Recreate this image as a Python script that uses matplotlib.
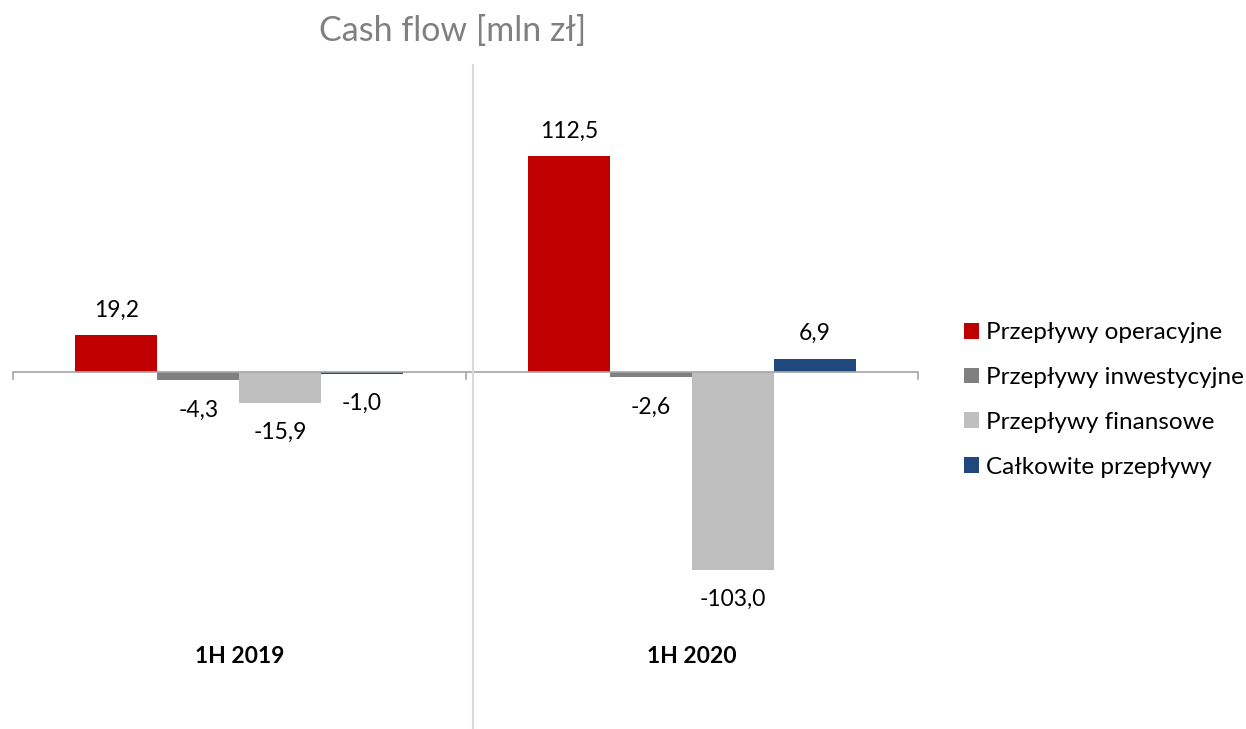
import matplotlib
matplotlib.use('Agg')
import matplotlib.pyplot as plt
import numpy as np
from matplotlib.lines import Line2D
from matplotlib.patches import Patch

# data
periods = ['1H 2019', '1H 2020']
series = ['Przepływy operacyjne', 'Przepływy inwestycyjne',
          'Przepływy finansowe', 'Całkowite przepływy']
operacyjne = [19.2, 112.5]
inwestycyjne = [-4.3, -2.6]
finansowe = [-15.9, -103.0]
calkowite = [-1.0, 6.9]
colors = ['#C00000', '#808080', '#BFBFBF', '#1F497D']

plt.rcParams['font.family'] = ['Lato', 'DejaVu Sans']

W, H = 1246, 729
fig = plt.figure(figsize=(W / 100, H / 100), dpi=100)

# axes placed in pixel coords: x from 13 to 918, zero line at y=372
ymax, ymin = 150, -150
ppu = 1.92
top_px = 372 - ppu * ymax
bot_px = 372 - ppu * ymin
ax = fig.add_axes([13 / W, 1 - bot_px / H, (918 - 13) / W, (bot_px - top_px) / H])
ax.set_xlim(-0.5, 1.5)
ax.set_ylim(ymin, ymax)
ax.axis('off')

x = np.arange(len(periods))
bw = 0.181
all_vals = [operacyjne, inwestycyjne, finansowe, calkowite]
for i, (vals, col, name) in enumerate(zip(all_vals, colors, series)):
    pos = x + (i - 1.5) * bw
    ax.bar(pos, vals, width=bw, color=col, label=name, zorder=2)
    for px, v in zip(pos, vals):
        off = 18 if v >= 0 else -21.5
        ax.annotate(f'{v:.1f}'.replace('.', ','), (px, v), xytext=(0, off),
                    textcoords='offset points', ha='center', va='center',
                    fontsize=16.5, color='black')

# zero axis with ticks
ax.axhline(0, color='#A6A6A6', lw=1.2, zorder=3)
for tx in [-0.5, 0.5, 1.5]:
    ax.plot([tx, tx], [0, -3.5], color='#A6A6A6', lw=1.2, clip_on=False, zorder=3)

for xi, p in zip(x, periods):
    ax.text(xi, ymin + 2, p, ha='center', va='center', fontsize=16.5,
            fontweight='bold', color='black')

# vertical separator
fig.add_artist(Line2D([472.5 / W, 472.5 / W], [1 - 65 / H, 0], color='#D9D9D9', lw=1.5))

fig.text(453 / W, 1 - 31 / H, 'Cash flow [mln zł]', ha='center', va='center',
         fontsize=24.5, color='#808080')

handles = [Patch(facecolor=c, edgecolor='none') for c in colors]
fig.legend(handles, series, loc='center left', bbox_to_anchor=(942 / W, 1 - 400 / H),
           frameon=False, fontsize=17.5, handlelength=0.62, handleheight=0.62,
           handletextpad=0.3, labelspacing=0.98)

fig.savefig('out.png', dpi=100)
